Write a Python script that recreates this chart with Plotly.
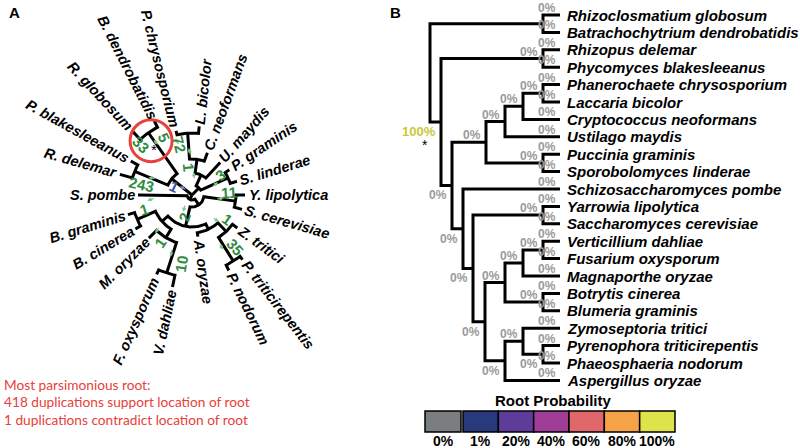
import math
import plotly.graph_objects as go

# ---------------- data ----------------
species = [
    "Rhizoclosmatium globosum", "Batrachochytrium dendrobatidis", "Rhizopus delemar",
    "Phycomyces blakesleeanus", "Phanerochaete chrysosporium", "Laccaria bicolor",
    "Cryptococcus neoformans", "Ustilago maydis", "Puccinia graminis",
    "Sporobolomyces linderae", "Schizosaccharomyces pombe", "Yarrowia lipolytica",
    "Saccharomyces cerevisiae", "Verticillium dahliae", "Fusarium oxysporum",
    "Magnaporthe oryzae", "Botrytis cinerea", "Blumeria graminis",
    "Zymoseptoria tritici", "Pyrenophora triticirepentis", "Phaeosphaeria nodorum",
    "Aspergillus oryzae",
]
short_names = [
    "R. globosum", "B. dendrobatidis", "R. delemar", "P. blakesleeanus",
    "P. chrysosporium", "L. bicolor", "C. neoformans", "U. maydis", "P. graminis",
    "S. linderae", "S. pombe", "Y. lipolytica", "S. cerevisiae", "V. dahliae",
    "F. oxysporum", "M. oryzae", "B. cinerea", "B. graminis", "Z. tritici",
    "P. triticirepentis", "P. nodorum", "A. oryzae",
]
# panel A (unrooted, radial): leaf direction (deg, counter-clockwise) and label radius
radial_angle = [133, 117, 164, 151, 104, 84, 70, 49, 34, 17, 180, 360, 344,
                258, 246, 225, 211, 197, 324, 308, 296, 278]
radial_radius = [91, 86, 78, 73, 69, 72, 48, 46, 48, 50, 57, 56, 55,
                 97, 90, 64, 69, 70, 59, 85, 87, 45]

# panel A internal nodes: children, radius
unrooted_tree = {
    "hub": (["X", "Bas", "A0"], 0),
    "X": (["Chy", "Muc"], 26),
    "Chy": (["B. dendrobatidis", "R. globosum"], 76),
    "Muc": (["P. blakesleeanus", "R. delemar"], 62),
    "Bas": (["BasB", "BasA"], 10),
    "BasB": (["S. linderae", "P. graminis"], 40),
    "BasA": (["U. maydis", "BasA2"], 22),
    "BasA2": (["C. neoformans", "BasA3"], 36),
    "BasA3": (["L. bicolor", "P. chrysosporium"], 62),
    "A0": (["S. pombe", "A1"], 5),
    "A1": (["P0", "Sac"], 12),
    "Sac": (["S. cerevisiae", "Y. lipolytica"], 44),
    "P0": (["P1", "P2"], 32),
    "P1": (["Leo", "S1"], 40),
    "Leo": (["B. graminis", "B. cinerea"], 60),
    "S1": (["M. oryzae", "S2"], 50),
    "S2": (["F. oxysporum", "V. dahliae"], 82),
    "P2": (["A. oryzae", "Doth"], 38),
    "Doth": (["PP2", "Z. tritici"], 50),
    "PP2": (["P. nodorum", "P. triticirepentis"], 78),
}

# duplication counts on panel A branches
dup_counts = ["33", "5", "72", "1", "1", "243", "3", "11", "1", "2", "1", "10", "1", "35"]
dup_angle = [135, 116, 104, 96, 155, 168, 36, 4, 197, 252, 236, 261, 325, 310]
dup_radius = [72, 64, 52, 28, 20, 52, 34, 37, 50, 24, 58, 70, 43, 68]
dup_contradict = [False, False, False, False, True, False, False, False, False,
                  False, False, False, False, False]
root_mark = (127, 68)  # angle, radius of the circled root position

summary_lines = ["Most parsimonious root:",
                 "418 duplications support location of root",
                 "1 duplications contradict location of root"]

# panel B (rooted cladogram): children, depth
rooted_tree = {
    "root": (["Chytrids", "Rest1"], 0),
    "Chytrids": (["Rhizoclosmatium globosum", "Batrachochytrium dendrobatidis"], 113),
    "Rest1": (["Mucoro", "Dikarya"], 11),
    "Mucoro": (["Rhizopus delemar", "Phycomyces blakesleeanus"], 113),
    "Dikarya": (["Basidio", "Asco"], 22),
    "Basidio": (["Agarico", "Pucc"], 56),
    "Agarico": (["Agarico2", "Ustilago maydis"], 75),
    "Agarico2": (["Agarico3", "Cryptococcus neoformans"], 93),
    "Agarico3": (["Phanerochaete chrysosporium", "Laccaria bicolor"], 113),
    "Pucc": (["Puccinia graminis", "Sporobolomyces linderae"], 113),
    "Asco": (["Schizosaccharomyces pombe", "SacPez"], 33),
    "SacPez": (["Sacch", "Pezizo"], 43),
    "Sacch": (["Yarrowia lipolytica", "Saccharomyces cerevisiae"], 113),
    "Pezizo": (["SordLeo", "EurDoth"], 55),
    "SordLeo": (["Sord", "Leo"], 75),
    "Sord": (["Sord2", "Magnaporthe oryzae"], 93),
    "Sord2": (["Verticillium dahliae", "Fusarium oxysporum"], 113),
    "Leo": (["Botrytis cinerea", "Blumeria graminis"], 113),
    "EurDoth": (["Doth", "Aspergillus oryzae"], 75),
    "Doth": (["Zymoseptoria tritici", "Pleo"], 93),
    "Pleo": (["Pyrenophora triticirepentis", "Phaeosphaeria nodorum"], 113),
}
tip_depth = 130
root_probability = {n: 0 for n in list(rooted_tree) + species}
root_probability["Rest1"] = 100
root_probability.pop("root")
root_probability.pop("Chytrids")
labels_below = ["Rest1", "Dikarya", "Asco", "SacPez", "Pezizo", "EurDoth", "Pleo"]

prob_labels = ["0%", "1%", "20%", "40%", "60%", "80%", "100%"]
prob_colors = ["#7b7e81", "#283a7c", "#5f3c99", "#a03d97", "#e0686a", "#f6a347", "#dde349"]

# ---------------- helpers ----------------
W, H = 800, 448
FONT = "Liberation Sans, Arial, sans-serif"
BW = {' ': 278, '.': 278, '%': 889, 'a': 556, 'b': 611, 'c': 556, 'd': 611, 'e': 556,
      'f': 333, 'g': 611, 'h': 611, 'i': 278, 'j': 278, 'k': 556, 'l': 278, 'm': 889,
      'n': 611, 'o': 611, 'p': 611, 'q': 611, 'r': 389, 's': 556, 't': 333, 'u': 611,
      'v': 556, 'w': 778, 'x': 556, 'y': 556, 'z': 500}


def text_w(s, size):
    tot = 0
    for ch in s:
        if ch.isdigit():
            tot += 556
        elif ch.isupper():
            tot += 722 if ch in "ABCDRU" else 667
        else:
            tot += BW.get(ch, 556)
    return tot / 1000 * size


def pol(a, r):
    return r * math.cos(math.radians(a)), r * math.sin(math.radians(a))


def px(v):
    return v / W


def py(v):
    return 1 - v / H


fig = go.Figure()
ann = []
shapes = []

# ---------------- panel A ----------------
angle_of = dict(zip(short_names, radial_angle))
rad_of = {n: r - 3 for n, r in zip(short_names, radial_radius)}


def node_angle(n):
    if n in angle_of:
        return angle_of[n]
    angs = [node_angle(c) for c in unrooted_tree[n][0]]
    angle_of[n] = (min(angs) + max(angs)) / 2
    return angle_of[n]


def node_r(n):
    return rad_of[n] if n in rad_of else unrooted_tree[n][1]


axs, ays = [], []
for n, (ch, r) in unrooted_tree.items():
    if r == 0:
        for c in ch:
            a = node_angle(c)
            x0, y0 = pol(a, 0)
            x1, y1 = pol(a, node_r(c))
            axs += [x0, x1, None]
            ays += [y0, y1, None]
        continue
    c1, c2 = ch
    a1, a2 = node_angle(c1), node_angle(c2)
    pts = [pol(a1, node_r(c1))]
    k = max(2, int(abs(a2 - a1) / 2) + 1)
    for i in range(k + 1):
        pts.append(pol(a1 + (a2 - a1) * i / k, r))
    pts.append(pol(a2, node_r(c2)))
    for x, y in pts:
        axs.append(x)
        ays.append(y)
    axs.append(None)
    ays.append(None)

fig.add_trace(go.Scatter(x=axs, y=ays, mode="lines", xaxis="x", yaxis="y",
                         line=dict(color="black", width=3), hoverinfo="skip",
                         showlegend=False))

LA = 14.5
for name, a, r in zip(short_names, radial_angle, radial_radius):
    w = text_w(name, LA)
    cx, cy = pol(a, r + w / 2)
    am = a % 360
    if 90 < am < 270:
        ta = 180 - am
    else:
        ta = -am
    ta = (ta + 180) % 360 - 180
    ann.append(dict(x=cx, y=cy, xref="x", yref="y", text=f"<b><i>{name}</i></b>",
                    textangle=ta, showarrow=False, xanchor="center", yanchor="middle",
                    font=dict(family=FONT, size=LA, color="black")))

for t, a, r, bad in zip(dup_counts, dup_angle, dup_radius, dup_contradict):
    cx, cy = pol(a, r)
    am = a % 360
    ta = 180 - am if 90 < am < 270 else -am
    ta = (ta + 180) % 360 - 180
    col = "#3b4fa3" if bad else "#2e8b40"
    # small arrow beside each count, pointing outward along the branch
    hx, hy = pol(a - 10, r - 5)
    ann.append(dict(x=hx, y=hy, xref="x", yref="y", text="", showarrow=True,
                    arrowhead=2, arrowsize=0.7, arrowwidth=1.2,
                    arrowcolor="#7cc48a" if not bad else "#8090d0",
                    ax=-8 * math.cos(math.radians(a)), ay=8 * math.sin(math.radians(a))))
    ann.append(dict(x=cx, y=cy, xref="x", yref="y", text=f"<b>{t}</b>", textangle=ta,
                    showarrow=False, xanchor="center", yanchor="middle",
                    font=dict(family=FONT, size=15, color=col)))

rx, ry = pol(*root_mark)
shapes.append(dict(type="circle", xref="x", yref="y", x0=rx - 21, x1=rx + 21,
                   y0=ry - 21, y1=ry + 21, line=dict(color="#e8403a", width=3)))
sx, sy = pol(root_mark[0] + 3, root_mark[1] - 9)
ann.append(dict(x=sx, y=sy, xref="x", yref="y", text="*", showarrow=False,
                font=dict(family=FONT, size=15, color="black")))

for i, line in enumerate(summary_lines):
    ann.append(dict(x=px(2), y=py(384 + 17.5 * i), xref="paper", yref="paper", text=line,
                    showarrow=False, xanchor="left", yanchor="middle",
                    font=dict(family="Lato, sans-serif", size=13.7, color="#e8403a")))

ann.append(dict(x=px(7), y=py(13), xref="paper", yref="paper", text="<b>A</b>",
                showarrow=False, xanchor="left", yanchor="middle",
                font=dict(family=FONT, size=15, color="black")))
ann.append(dict(x=px(388), y=py(13), xref="paper", yref="paper", text="<b>B</b>",
                showarrow=False, xanchor="left", yanchor="middle",
                font=dict(family=FONT, size=15, color="black")))

# ---------------- panel B ----------------
y_of = {s: i for i, s in enumerate(species)}
d_of = {s: tip_depth for s in species}


def node_y(n):
    if n in y_of:
        return y_of[n]
    ch = rooted_tree[n][0]
    ys = [node_y(c) for c in ch]
    y_of[n] = (ys[0] + ys[-1]) / 2
    return y_of[n]


for n, (ch, d) in rooted_tree.items():
    d_of[n] = d
node_y("root")

bxs, bys = [], []
for n, (ch, d) in rooted_tree.items():
    c1, c2 = ch
    bxs += [d_of[c1], d, d, d_of[c2], None]
    bys += [y_of[c1], y_of[c1], y_of[c2], y_of[c2], None]
fig.add_trace(go.Scatter(x=bxs, y=bys, mode="lines", xaxis="x2", yaxis="y2",
                         line=dict(color="black", width=3), hoverinfo="skip",
                         showlegend=False))

for s in species:
    ann.append(dict(x=tip_depth + 5, y=y_of[s], xref="x2", yref="y2",
                    text=f"<b><i>{s}</i></b>", showarrow=False, xanchor="left",
                    yanchor="middle", font=dict(family=FONT, size=15, color="black")))

for n, p in root_probability.items():
    below = n in labels_below
    is_leaf = n in species
    xr = d_of[n] - (2 if is_leaf else 3)
    col = "#c9c93a" if p == 100 else "#9a9a9a"
    ann.append(dict(x=xr, y=y_of[n], xref="x2", yref="y2", text=f"<b>{p}%</b>",
                    showarrow=False, xanchor="right", yanchor="middle",
                    yshift=(-10 if below else 7),
                    font=dict(family=FONT, size=13 if p == 100 else 12, color=col)))
ann.append(dict(x=-5, y=y_of["Rest1"], xref="x2", yref="y2", text="*", showarrow=False,
                xanchor="center", yanchor="middle", yshift=-23,
                font=dict(family=FONT, size=14, color="black")))

# root probability key
ann.append(dict(x=px(553), y=py(400), xref="paper", yref="paper",
                text="<b>Root Probability</b>", showarrow=False, xanchor="center",
                yanchor="middle", font=dict(family=FONT, size=15, color="black")))
bw = (675 - 463) / 6
for i, (lab, col) in enumerate(zip(prob_labels, prob_colors)):
    if i == 0:
        x0, x1 = 425, 461
    else:
        x0 = 463 + (i - 1) * bw
        x1 = x0 + bw
    shapes.append(dict(type="rect", xref="paper", yref="paper", x0=px(x0), x1=px(x1),
                       y0=py(432), y1=py(411), fillcolor=col,
                       line=dict(color="black", width=1.5)))
    ann.append(dict(x=px((x0 + x1) / 2), y=py(441), xref="paper", yref="paper",
                    text=f"<b>{lab}</b>", showarrow=False, xanchor="center",
                    yanchor="middle", font=dict(family=FONT, size=14, color="black")))

hidden = dict(visible=False, showgrid=False, zeroline=False, fixedrange=True)
fig.update_layout(
    width=W, height=H, autosize=False,
    margin=dict(l=0, r=0, t=0, b=0),
    paper_bgcolor="white", plot_bgcolor="white",
    xaxis=dict(domain=[0, 0.5], range=[-192, 208], **hidden),
    yaxis=dict(domain=[0, 1], range=[-253, 195], **hidden),
    xaxis2=dict(domain=[0.5, 1], range=[-30, 370], anchor="y2", **hidden),
    yaxis2=dict(domain=[0, 1], range=[(448 - 15) / 17.4, -15 / 17.4], anchor="x2", **hidden),
    annotations=ann, shapes=shapes, showlegend=False,
)
fig.write_html("out.html", config={"displayModeBar": False},
               post_script="document.body.style.margin='0';document.body.style.overflow='hidden';")
